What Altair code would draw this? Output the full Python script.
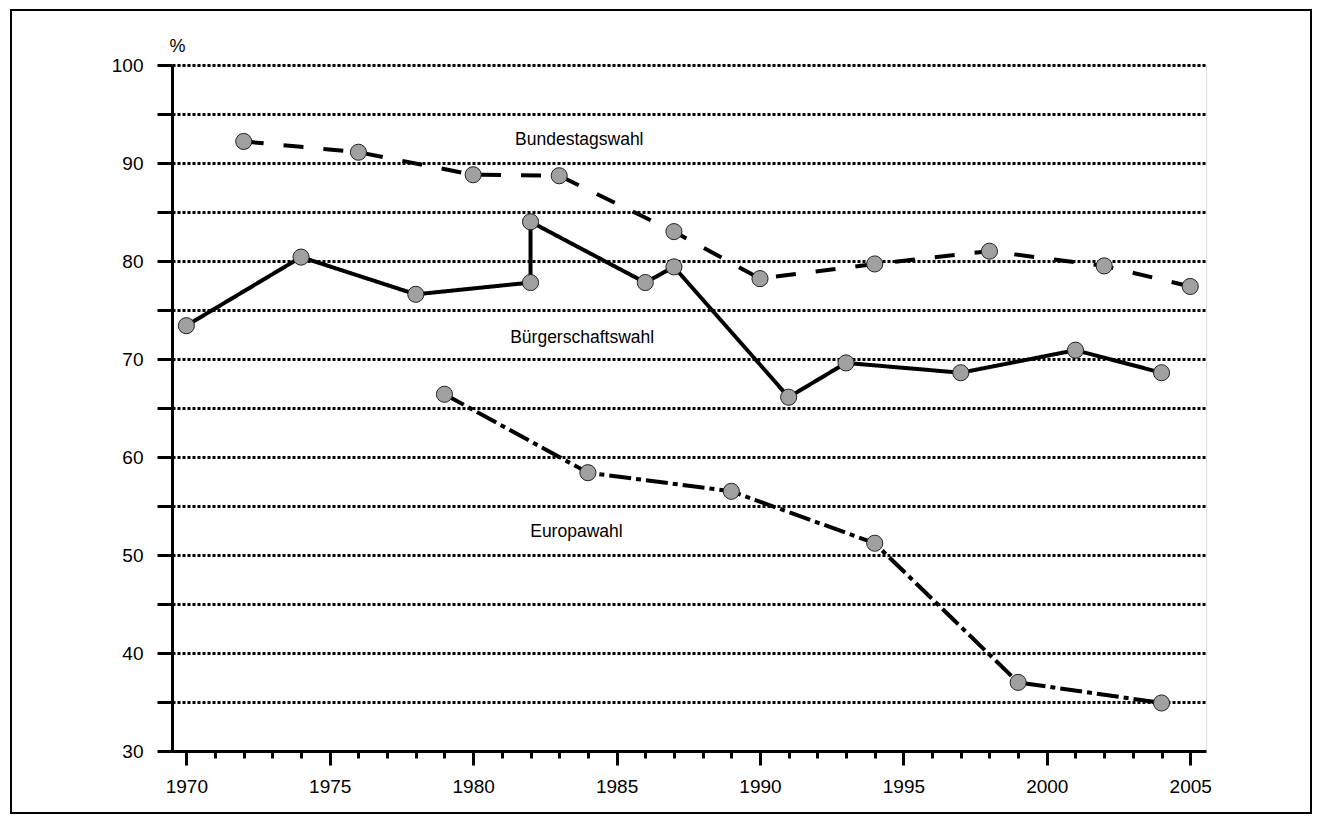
import altair as alt
import pandas as pd

# Bundestagswahl
bt_years = [1972, 1976, 1980, 1983, 1987, 1990, 1994, 1998, 2002, 2005]
bt_values = [92.2, 91.1, 88.8, 88.7, 83.0, 78.2, 79.7, 81.0, 79.5, 77.4]
# Bürgerschaftswahl (two elections in 1982)
bs_years = [1970, 1974, 1978, 1982, 1982, 1986, 1987, 1991, 1993, 1997, 2001, 2004]
bs_values = [73.4, 80.4, 76.6, 77.8, 84.0, 77.8, 79.4, 66.1, 69.6, 68.6, 70.9, 68.6]
# Europawahl
eu_years = [1979, 1984, 1989, 1994, 1999, 2004]
eu_values = [66.4, 58.4, 56.5, 51.2, 37.0, 34.9]

label_names = ["Bundestagswahl", "Bürgerschaftswahl", "Europawahl"]
label_years = [1983.7, 1983.8, 1983.6]
label_values = [91.8, 71.6, 51.8]

x_major = list(range(1970, 2006, 5))
x_minor = list(range(1970, 2006))
y_ticks = list(range(30, 101, 5))

rows = []
for i, (yr, v) in enumerate(zip(bt_years, bt_values)):
    rows.append({"series": "Bundestagswahl", "year": yr, "value": v, "order": i})
for i, (yr, v) in enumerate(zip(bs_years, bs_values)):
    rows.append({"series": "Bürgerschaftswahl", "year": yr, "value": v, "order": i})
for i, (yr, v) in enumerate(zip(eu_years, eu_values)):
    rows.append({"series": "Europawahl", "year": yr, "value": v, "order": i})
df = pd.DataFrame(rows)
labels = pd.DataFrame({"name": label_names, "year": label_years, "value": label_values})

FONT = "Liberation Sans, Arial, sans-serif"

xscale = alt.Scale(domain=[1969.5, 2005.55], nice=False, zero=False)
yscale = alt.Scale(domain=[30, 100], nice=False, zero=False)

x_major_axis = alt.Axis(values=x_major, format="d", tickSize=14, tickWidth=3, tickColor="black",
                        domainColor="black", domainWidth=3, labelFont=FONT, labelFontSize=19,
                        labelColor="black", labelPadding=12, grid=False, title=None, orient="bottom")
x_minor_axis = alt.Axis(values=x_minor, tickSize=7, tickWidth=3, tickColor="black", labels=False,
                        domain=False, grid=False, title=None, orient="bottom")
y_axis = alt.Axis(values=y_ticks, labelExpr="datum.value % 10 == 0 ? datum.label : ''",
                  tickSize=15, tickWidth=3, tickColor="black", domainColor="black", domainWidth=3,
                  labelFont=FONT, labelFontSize=19, labelColor="black", labelPadding=14,
                  grid=True, gridColor="black", gridDash=[3, 2], gridWidth=3, translate=0.5,
                  title="%", titleAngle=0, titleX=5, titleY=-14, titleAlign="center",
                  titleBaseline="alphabetic", titleFont=FONT, titleFontSize=18,
                  titleFontWeight="normal", titleColor="black")

base = alt.Chart(df)

def line_layer(name, dash, axis):
    return base.transform_filter(alt.datum.series == name).mark_line(
        color="black", strokeWidth=4, strokeDash=dash, strokeCap="butt"
    ).encode(
        x=alt.X("year:Q", scale=xscale, axis=axis),
        y=alt.Y("value:Q", scale=yscale, axis=y_axis),
        order="order:Q",
    )

bt_line = line_layer("Bundestagswahl", [20, 20], x_major_axis)
bs_line = line_layer("Bürgerschaftswahl", [1, 0], None)
eu_line = line_layer("Europawahl", [22, 5, 5, 5], None)

points = base.mark_point(filled=True, fill="#a0a0a0", stroke="#222222", strokeWidth=1,
                         size=260, opacity=1).encode(
    x=alt.X("year:Q", scale=xscale, axis=x_minor_axis),
    y=alt.Y("value:Q", scale=yscale, axis=y_axis),
)

texts = alt.Chart(labels).mark_text(font=FONT, fontSize=17.5, color="black", align="center",
                                    baseline="alphabetic").encode(
    x=alt.X("year:Q", scale=xscale, axis=None),
    y=alt.Y("value:Q", scale=yscale, axis=y_axis),
    text="name:N",
)

border = alt.Chart(pd.DataFrame({"k": [0]})).mark_rect(
    fill="transparent", stroke="black", strokeWidth=2
).encode(x=alt.value(-161), x2=alt.value(1139), y=alt.value(-55), y2=alt.value(748))

chart = alt.layer(bt_line, bs_line, eu_line, points, texts, border).resolve_axis(
    x="independent"
).properties(
    width=1034, height=686,
    autosize=alt.AutoSizeParams(type="none"),
    padding={"left": 164, "top": 57, "right": 107, "bottom": 64},
).configure_view(stroke="transparent", strokeWidth=0).configure(background="white")

chart.save("out.html", embed_options={"renderer": "svg", "actions": False})
